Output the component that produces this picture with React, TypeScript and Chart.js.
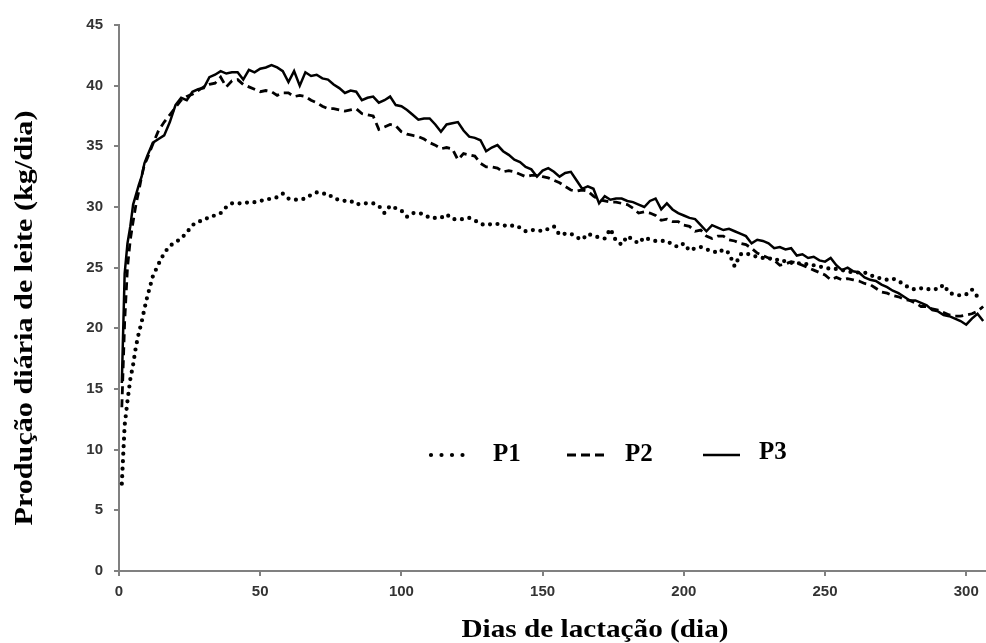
import React, { useEffect, useRef } from "react";
import { Chart, registerables } from "chart.js";

Chart.register(...registerables);

// Days of lactation (x values shared by the three series)
const DAYS = [
  1, 2, 3, 4, 5, 6, 7, 8, 9, 10,
  12, 14, 16, 18, 20, 22, 24, 26, 28, 30,
  32, 34, 36, 38, 40, 42, 44, 46, 48, 50,
  52, 54, 56, 58, 60, 62, 64, 66, 68, 70,
  72, 74, 76, 78, 80, 82, 84, 86, 88, 90,
  92, 94, 96, 98, 100, 102, 104, 106, 108, 110,
  112, 114, 116, 118, 120, 122, 124, 126, 128, 130,
  132, 134, 136, 138, 140, 142, 144, 146, 148, 150,
  152, 154, 156, 158, 160, 162, 164, 166, 168, 170,
  172, 174, 176, 178, 180, 182, 184, 186, 188, 190,
  192, 194, 196, 198, 200, 202, 204, 206, 208, 210,
  212, 214, 216, 218, 220, 222, 224, 226, 228, 230,
  232, 234, 236, 238, 240, 242, 244, 246, 248, 250,
  252, 254, 256, 258, 260, 262, 264, 266, 268, 270,
  272, 274, 276, 278, 280, 282, 284, 286, 288, 290,
  292, 294, 296, 298, 300, 302, 304, 306,
];

const P1 = [
  7.2, 12.0, 14.0, 15.8, 17.0, 18.5, 19.6, 20.5, 21.6, 22.6,
  24.3, 25.3, 26.2, 26.8, 27.1, 27.4, 27.9, 28.5, 28.8, 28.9,
  29.2, 29.3, 29.5, 30.0, 30.3, 30.3, 30.3, 30.4, 30.4, 30.5,
  30.6, 30.7, 30.8, 31.1, 30.7, 30.6, 30.6, 30.7, 31.0, 31.2,
  31.1, 31.1, 30.7, 30.6, 30.5, 30.5, 30.2, 30.3, 30.3, 30.3,
  30.1, 29.5, 30.1, 29.9, 29.7, 29.2, 29.5, 29.5, 29.4, 29.1,
  29.1, 29.1, 29.4, 29.0, 29.0, 29.0, 29.1, 28.9, 28.6, 28.5,
  28.6, 28.6, 28.5, 28.4, 28.5, 28.3, 28.0, 28.1, 28.1, 28.0,
  28.2, 28.4, 27.7, 27.8, 27.8, 27.5, 27.3, 27.8, 27.6, 27.5,
  27.4, 28.2, 27.2, 26.9, 27.6, 27.3, 27.0, 27.5, 27.3, 27.2,
  27.2, 27.2, 26.9, 26.7, 27.0, 26.4, 26.6, 26.7, 26.5, 26.4,
  26.2, 26.5, 26.2, 25.1, 26.1, 26.2, 26.0, 25.9, 25.8, 25.8,
  25.6, 25.7, 25.5, 25.4, 25.4, 25.3, 25.3, 25.2, 25.1, 25.0,
  24.9, 24.9, 24.8, 24.7, 24.6, 24.6, 24.6, 24.4, 24.2, 24.1,
  24.0, 24.1, 23.9, 23.6, 23.3, 23.2, 23.3, 23.2, 23.3, 23.2,
  23.6, 22.9, 22.8, 22.7, 22.8, 23.2, 22.6, 22.5,
];

const P2 = [
  13.5, 20.5, 25.0, 27.3, 28.8, 30.2, 31.3, 32.5, 33.5, 34.0,
  35.2, 36.3, 37.0, 37.6, 38.2, 38.8, 39.1, 39.3, 39.6, 39.9,
  40.1, 40.2, 40.7, 39.9, 40.4, 40.5, 40.1, 39.9, 39.7, 39.5,
  39.6, 39.5, 39.2, 39.4, 39.4, 39.1, 39.2, 39.1, 38.8, 38.6,
  38.3, 38.1, 38.1, 38.0, 37.9, 38.0, 38.1, 37.7, 37.6, 37.5,
  36.4, 36.6, 36.8, 36.7, 36.2, 36.0, 35.9, 35.8, 35.6, 35.3,
  35.1, 34.8, 34.9, 34.8, 33.9, 34.4, 34.3, 34.2, 33.6, 33.3,
  33.3, 33.2, 32.9, 33.0, 32.9, 32.7, 32.5, 32.6, 32.6, 32.5,
  32.4, 32.2, 32.0, 31.7, 31.4, 31.3, 31.4, 31.3, 30.9, 30.6,
  30.5, 30.4, 30.4, 30.3, 30.2, 29.9, 29.5, 29.6, 29.5, 29.3,
  28.9, 29.0, 28.8, 28.8, 28.5, 28.4, 28.0, 28.1, 27.6, 27.4,
  27.6, 27.6, 27.3, 27.2, 27.0, 26.9, 26.6, 26.2, 26.0, 25.8,
  25.6, 25.2, 25.3, 25.5, 25.4, 25.2, 25.0, 24.8, 24.6, 24.4,
  24.0, 24.2, 24.0, 24.1, 24.0, 23.9, 23.7, 23.6, 23.3, 23.0,
  22.9, 22.7, 22.6, 22.4, 22.3, 22.1, 21.8, 21.8, 21.6, 21.5,
  21.3, 21.1, 21.0, 21.0, 21.1, 21.2, 21.4, 21.8,
];

const P3 = [
  15.5, 24.5, 27.0, 28.4, 30.2, 31.0, 31.8, 32.5, 33.6, 34.2,
  35.3, 35.6, 35.9, 37.0, 38.4, 39.0, 38.8, 39.5, 39.7, 39.8,
  40.7, 40.9, 41.2, 41.0, 41.1, 41.1, 40.5, 41.3, 41.1, 41.4,
  41.5, 41.7, 41.5, 41.2, 40.3, 41.2, 40.0, 41.1, 40.8, 40.9,
  40.6, 40.5, 40.1, 39.8, 39.4, 39.6, 39.5, 38.8, 39.0, 39.1,
  38.6, 38.8, 39.1, 38.4, 38.3, 38.0, 37.6, 37.2, 37.3, 37.3,
  36.8, 36.2, 36.8, 36.9, 37.0, 36.3, 35.8, 35.7, 35.5, 34.6,
  34.9, 35.1, 34.6, 34.3, 33.9, 33.7, 33.3, 33.1, 32.5, 33.0,
  33.2, 32.9, 32.5, 32.8, 32.9, 32.2, 31.5, 31.7, 31.5, 30.3,
  30.9, 30.6, 30.7, 30.7, 30.5, 30.4, 30.2, 30.0, 30.5, 30.7,
  29.8, 30.3, 29.8, 29.5, 29.3, 29.1, 29.0, 28.5, 28.0, 28.5,
  28.3, 28.1, 28.2, 28.0, 27.8, 27.6, 27.0, 27.3, 27.2, 27.0,
  26.6, 26.7, 26.5, 26.6, 26.0, 26.1, 25.8, 25.9, 25.6, 25.5,
  25.8, 25.2, 24.8, 25.0, 24.7, 24.6, 24.2, 24.0, 23.9, 23.6,
  23.4, 23.1, 22.9, 22.6, 22.3, 22.3, 22.1, 21.9, 21.5, 21.4,
  21.1, 21.0, 20.8, 20.6, 20.3, 20.8, 21.2, 20.6,
];

const SERIES_LABELS = ["P1", "P2", "P3"];
const X_TITLE = "Dias de lactação (dia)";
const Y_TITLE = "Produção diária de leite (kg/dia)";
const X_TICK_STEP = 50;
const Y_TICK_STEP = 5;

const SERIF = '"Liberation Serif", "Times New Roman", serif';
const SANS = '"Liberation Sans", Arial, sans-serif';

function drawStretched(ctx: CanvasRenderingContext2D, text: string, targetWidth: number) {
  const w = ctx.measureText(text).width;
  const s = targetWidth / w;
  ctx.save();
  ctx.scale(s, 1);
  ctx.textAlign = "center";
  ctx.textBaseline = "alphabetic";
  ctx.fillText(text, 0, 0);
  ctx.restore();
}

const overlayPlugin = {
  id: "overlay",
  afterDraw(chart: any) {
    const ctx: CanvasRenderingContext2D = chart.ctx;
    ctx.save();
    ctx.fillStyle = "#000";
    ctx.font = `bold 26px ${SERIF}`;
    // x axis title
    ctx.save();
    ctx.translate(595, 637);
    drawStretched(ctx, X_TITLE, 267);
    ctx.restore();
    // y axis title
    ctx.save();
    ctx.translate(32, 318);
    ctx.rotate(-Math.PI / 2);
    drawStretched(ctx, Y_TITLE, 415);
    ctx.restore();

    // legend inside plot
    const legend = [
      { x0: 431, x1: 463, dash: [0, 10.5], width: 4.2, cap: "round", tx: 493, ty: 461 },
      { x0: 567, x1: 604, dash: [9, 5], width: 2.8, cap: "butt", tx: 625, ty: 461 },
      { x0: 703, x1: 740, dash: [], width: 2.6, cap: "butt", tx: 759, ty: 459 },
    ];
    ctx.font = `bold 25px ${SERIF}`;
    ctx.textAlign = "left";
    ctx.textBaseline = "alphabetic";
    legend.forEach((l, i) => {
      const ds = chart.data.datasets[i];
      ctx.beginPath();
      ctx.strokeStyle = ds.borderColor;
      ctx.lineWidth = l.width;
      ctx.lineCap = l.cap as CanvasLineCap;
      ctx.setLineDash(l.dash);
      ctx.moveTo(l.x0, 455);
      ctx.lineTo(l.x1, 455);
      ctx.stroke();
      ctx.setLineDash([]);
      ctx.fillText(ds.label, l.tx, l.ty);
    });
    ctx.restore();
  },
};

export default function App() {
  const canvasRef = useRef<HTMLCanvasElement | null>(null);

  useEffect(() => {
    const canvas = canvasRef.current;
    if (!canvas) return;
    const toPoints = (vals: number[]) => DAYS.map((d, i) => ({ x: d, y: vals[i] }));
    const chart = new Chart(canvas, {
      type: "line",
      data: {
        datasets: [
          {
            label: SERIES_LABELS[0],
            data: toPoints(P1),
            borderColor: "#000",
            borderWidth: 4.2,
            borderDash: [0, 7.5],
            borderCapStyle: "round",
            pointRadius: 0,
            tension: 0,
            fill: false,
          },
          {
            label: SERIES_LABELS[1],
            data: toPoints(P2),
            borderColor: "#000",
            borderWidth: 2.8,
            borderDash: [8, 5],
            borderCapStyle: "butt",
            pointRadius: 0,
            tension: 0,
            fill: false,
          },
          {
            label: SERIES_LABELS[2],
            data: toPoints(P3),
            borderColor: "#000",
            borderWidth: 2.5,
            pointRadius: 0,
            tension: 0,
            fill: false,
          },
        ],
      },
      options: {
        responsive: false,
        animation: false,
        layout: { padding: { top: 25, left: 0, right: 0, bottom: 0 } },
        plugins: {
          legend: { display: false },
          tooltip: { enabled: false },
          title: { display: false },
        },
        scales: {
          x: {
            type: "linear",
            min: 0,
            max: 307,
            ticks: {
              stepSize: X_TICK_STEP,
              includeBounds: false,
              color: "#333",
              font: { family: SANS, size: 15, weight: "bold" },
              padding: 7,
              maxRotation: 0,
            },
            grid: { display: true, drawOnChartArea: false, drawTicks: true, tickLength: 5, color: "#808080", lineWidth: 2 },
            border: { display: true, color: "#808080", width: 2 },
            afterFit: (scale: any) => {
              scale.height = 72;
            },
          },
          y: {
            type: "linear",
            min: 0,
            max: 45,
            ticks: {
              stepSize: Y_TICK_STEP,
              color: "#333",
              font: { family: SANS, size: 15, weight: "bold" },
              padding: 11,
            },
            grid: { display: true, drawOnChartArea: false, drawTicks: true, tickLength: 5, color: "#808080", lineWidth: 2 },
            border: { display: true, color: "#808080", width: 2 },
            afterFit: (scale: any) => {
              scale.width = 119;
            },
          },
        },
      },
      plugins: [overlayPlugin],
    } as any);
    return () => chart.destroy();
  }, []);

  return (
    <div style={{ position: "fixed", left: 0, top: 0, width: 986, height: 643, background: "#fff" }}>
      <canvas ref={canvasRef} width={986} height={643} style={{ display: "block" }} />
    </div>
  );
}
